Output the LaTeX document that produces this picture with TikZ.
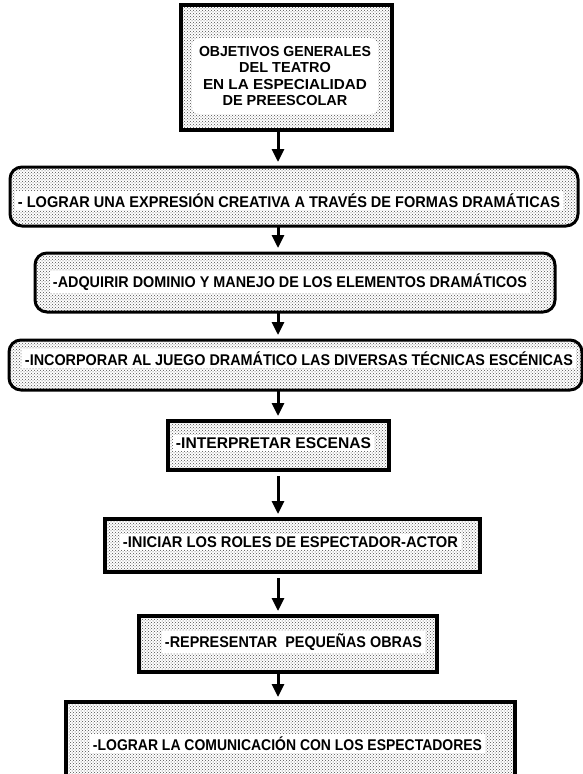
\documentclass[tikz,border=0pt]{standalone}
\usepackage{fontspec}
\usepackage{graphicx}
\setmainfont{Liberation Sans}
\usetikzlibrary{arrows.meta,patterns}
\newcommand{\fitto}[2]{\resizebox{#1}{\height}{#2}}
\tikzset{
  boxbase/.style={draw=black, inner sep=0pt, outer sep=0pt, pattern=crosshatch dots, pattern color=black!70},
  rbox/.style={boxbase, line width=3pt, rounded corners=12pt},
  sbox/.style={boxbase, line width=4pt},
  lbl/.style={font=\bfseries\fontsize{15.5}{16.3}\selectfont, fill=white, inner sep=2.5pt, anchor=base},
  arr/.style={line width=3pt, -{Triangle[width=12pt,length=13pt]}, shorten >=5pt, shorten <=1pt}
}
\begin{document}
\begin{tikzpicture}[x=1pt,y=-1pt]
\clip (0,0) rectangle (583,774);
\fill[white] (0,0) rectangle (583,774);
\coordinate (ax) at (278,0);
% box 1
\node[sbox, line width=3.5pt, minimum width=211pt, minimum height=125pt] (b1) at (286.5,67.5) {};
\node[font=\bfseries\fontsize{14.5}{16.3}\selectfont, align=center, fill=white, rounded corners=8pt,
      minimum width=186pt, minimum height=76pt, inner sep=0pt] (t1) at (285,76)
  {\fitto{172pt}{OBJETIVOS GENERALES}\\DEL TEATRO\\\fitto{164pt}{EN LA ESPECIALIDAD}\\DE PREESCOLAR};
% box 2
\node[rbox, minimum width=568pt, minimum height=59pt] (b2) at (294,196.5) {};
\node[lbl] (t2) at (289,207.5) {\fitto{542pt}{- LOGRAR UNA EXPRESIÓN CREATIVA A TRAVÉS DE FORMAS DRAMÁTICAS}};
% box 3
\node[rbox, minimum width=520pt, minimum height=59pt] (b3) at (295,282.5) {};
\node[lbl] (t3) at (290,287.5) {\fitto{474pt}{-ADQUIRIR DOMINIO Y MANEJO DE LOS ELEMENTOS DRAMÁTICOS}};
% box 4
\node[rbox, minimum width=573pt, minimum height=50pt] (b4) at (295.5,365) {};
\node[lbl] (t4) at (299,365.5) {\fitto{548pt}{-INCORPORAR AL JUEGO DRAMÁTICO LAS DIVERSAS TÉCNICAS ESCÉNICAS}};
% box 5
\node[sbox, minimum width=221pt, minimum height=49pt] (b5) at (278.5,445.5) {};
\node[lbl] (t5) at (273.5,448.5) {\fitto{195pt}{-INTERPRETAR ESCENAS}};
% box 6
\node[sbox, minimum width=375pt, minimum height=53pt] (b6) at (292.5,545.5) {};
\node[lbl] (t6) at (290.5,547.5) {\fitto{335pt}{-INICIAR LOS ROLES DE ESPECTADOR-ACTOR}};
% box 7
\node[sbox, minimum width=298pt, minimum height=56pt] (b7) at (288,644) {};
\node[lbl] (t7) at (293.5,647.5) {\fitto{257pt}{-REPRESENTAR \ PEQUEÑAS OBRAS}};
% box 8
\node[sbox, minimum width=449pt, minimum height=88pt] (b8) at (290.5,746) {};
\node[lbl] (t8) at (287.5,750.5) {\fitto{389pt}{-LOGRAR LA COMUNICACIÓN CON LOS ESPECTADORES}};
% arrows
\draw[arr] (b1.south -| ax) -- (b2.north -| ax);
\draw[arr] (b2.south -| ax) -- (b3.north -| ax);
\draw[arr] (b3.south -| ax) -- (b4.north -| ax);
\draw[arr] (b4.south -| ax) -- (b5.north -| ax);
\draw[arr, shorten <=6pt] (b5.south -| ax) -- (b6.north -| ax);
\draw[arr, shorten <=6pt] (b6.south -| ax) -- (b7.north -| ax);
\draw[arr] (b7.south -| ax) -- (b8.north -| ax);
\end{tikzpicture}
\end{document}
